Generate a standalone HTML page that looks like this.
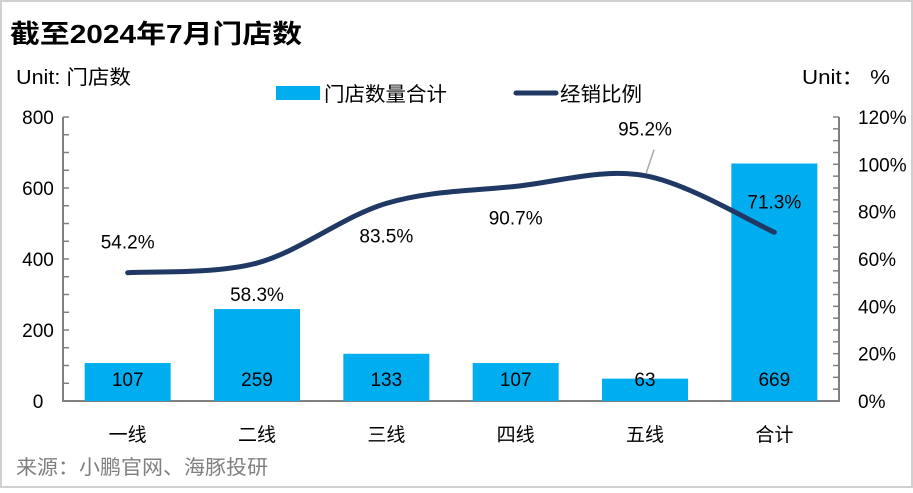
<!DOCTYPE html>
<html><head><meta charset="utf-8"><style>
body{margin:0;background:#fff}
svg text{font-family:"Liberation Sans","Noto Sans CJK SC",sans-serif}
</style></head><body>
<svg id="c" width="913" height="488" xmlns="http://www.w3.org/2000/svg">
<rect x="1" y="1" width="911" height="486" fill="#fff" stroke="#d0d0d0" stroke-width="2"/>
<text x="10" y="43" font-size="26" font-weight="bold" fill="#000" textLength="292" lengthAdjust="spacingAndGlyphs">截至2024年7月门店数</text>
<text x="16" y="84" font-size="20" fill="#000" textLength="115" lengthAdjust="spacingAndGlyphs">Unit: 门店数</text>
<text x="802" y="84" font-size="20" fill="#000" textLength="88" lengthAdjust="spacingAndGlyphs">Unit： %</text>
<g>
<rect x="276" y="86" width="44" height="14" fill="#00aeef"/>
<text x="324" y="101" font-size="20" textLength="123" lengthAdjust="spacingAndGlyphs">门店数量合计</text>
<line x1="516" y1="93" x2="556" y2="93" stroke="#1f3864" stroke-width="5" stroke-linecap="round"/>
<text x="560" y="101" font-size="20" textLength="82" lengthAdjust="spacingAndGlyphs">经销比例</text>
</g>
<g id="axes"></g><g id="bars"></g><g id="line"></g><g id="labels"></g>
<text x="16" y="474" font-size="20" fill="#7f7f7f" textLength="252" lengthAdjust="spacingAndGlyphs">来源：小鹏官网、海豚投研</text>
</svg>
<script>
const categories=["一线","二线","三线","四线","五线","合计"];
const stores=[107,259,133,107,63,669];
const ratio=[54.2,58.3,83.5,90.7,95.2,71.3];
const leftTicks=[0,200,400,600,800];
const rightTicks=[0,20,40,60,80,100,120];
const NS="http://www.w3.org/2000/svg";
const X0=63,X1=839,Y0=401,Y1=117;
const yL=v=>Y0-(v/800)*(Y0-Y1);
const yR=v=>Y0-(v/120)*(Y0-Y1);
const bw=(X1-X0)/categories.length;
const xC=i=>X0+bw*(i+0.5);
function mk(t,a,p){const e=document.createElementNS(NS,t);for(const k in a)e.setAttribute(k,a[k]);document.getElementById(p).appendChild(e);return e;}
let e=mk("path",{d:`M${X0} ${Y1}V${Y0}H${X1}V${Y1}`,fill:"none",stroke:"#808080","stroke-width":2},"axes");


for(let v=0;v<=800;v+=50){e=mk("line",{x1:X0,x2:X0+6,y1:yL(v),y2:yL(v),stroke:"#808080","stroke-width":1.5},"axes");

}
for(let v=0;v<=120;v+=5){e=mk("line",{x1:X1-6,x2:X1,y1:yR(v),y2:yR(v),stroke:"#808080","stroke-width":1.5},"axes");

}
leftTicks.forEach(v=>{e=mk("text",{x:38,y:yL(v)+7,"font-size":19,"text-anchor":"middle"},"axes");e.textContent=v;

});
rightTicks.forEach(v=>{e=mk("text",{x:858,y:yR(v)+7,"font-size":19},"axes");e.textContent=v+"%";

});
categories.forEach((c,i)=>{e=mk("text",{x:xC(i),y:441,"font-size":19,"text-anchor":"middle"},"axes");e.textContent=c;

});
stores.forEach((v,i)=>{e=mk("rect",{x:xC(i)-43,y:yL(v),width:86,height:Y0-yL(v),fill:"#00aeef"},"bars");


e=mk("text",{x:xC(i),y:386,"font-size":19,"text-anchor":"middle"},"labels");e.textContent=v;

});
const pts=ratio.map((v,i)=>[xC(i),yR(v)]);
let d=`M${pts[0][0]} ${pts[0][1]}`;
for(let i=0;i<pts.length-1;i++){const p0=pts[i-1]||pts[i],p1=pts[i],p2=pts[i+1],p3=pts[i+2]||p2;
d+=` C${p1[0]+(p2[0]-p0[0])/6} ${p1[1]+(p2[1]-p0[1])/6} ${p2[0]-(p3[0]-p1[0])/6} ${p2[1]-(p3[1]-p1[1])/6} ${p2[0]} ${p2[1]}`;}
e=mk("path",{d:d,fill:"none",stroke:"#1f3864","stroke-width":5,"stroke-linecap":"round"},"line");


const off=[-30,32,33,32,-46,-30];
ratio.forEach((v,i)=>{e=mk("text",{x:xC(i),y:yR(v)+off[i]+6,"font-size":19,"text-anchor":"middle"},"labels");e.textContent=v.toFixed(1)+"%";

});
e=mk("line",{x1:xC(4)+1,y1:yR(ratio[4])-2,x2:xC(4)+9,y2:yR(ratio[4])-26,stroke:"#a6a6a6","stroke-width":1.5},"labels");


</script>
</body></html>
